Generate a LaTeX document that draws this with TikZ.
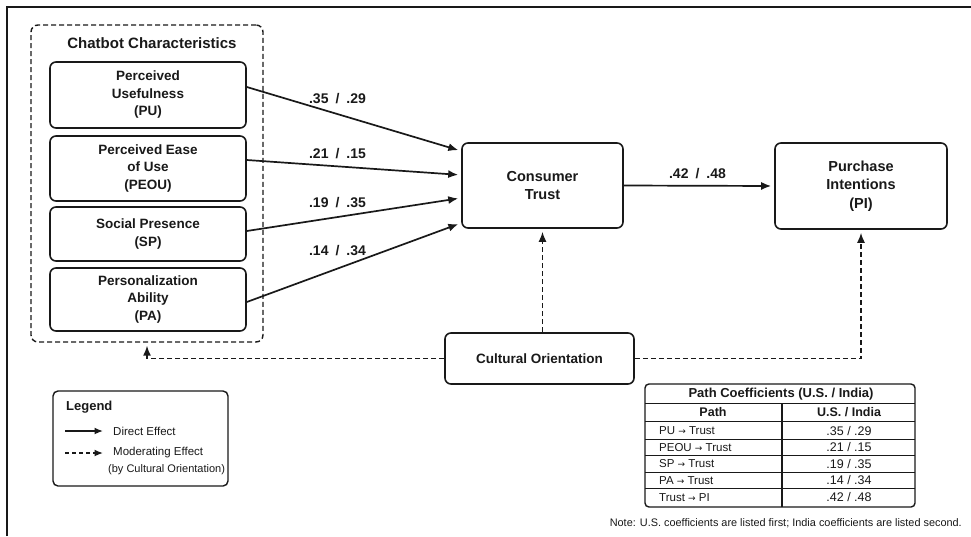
\documentclass[tikz,border=0pt]{standalone}
\usepackage{fontspec}
\setmainfont{Liberation Sans}
\newfontfamily\arrfont{DejaVu Sans}
\usetikzlibrary{arrows.meta,calc}
\definecolor{ink}{RGB}{25,25,25}
\newcommand{\rarr}{{\arrfont\fontsize{9}{9}\selectfont →}}
\begin{document}
\begin{tikzpicture}[x=1pt,y=-1pt,
  every node/.style={text=ink},
  box/.style={draw=ink, line width=1.6pt, rounded corners=6pt, align=center, inner sep=0pt,
    font=\fontsize{13.5}{17.5}\selectfont\bfseries},
  bigbox/.style={box, font=\fontsize{14.5}{18.5}\selectfont\bfseries},
  grpbox/.style={draw=ink, line width=1.4pt, rounded corners=7pt, dash pattern=on 5pt off 3pt, inner sep=0pt},
  direct/.style={draw=ink, line width=1.7pt, -{Latex[length=10pt,width=8pt]}, shorten >=3pt},
  mod/.style={direct, line width=1.5pt, dash pattern=on 5pt off 3pt},
  smalldirect/.style={draw=ink, line width=1.5pt, -{Latex[length=8.5pt,width=7pt]}},
  smallmod/.style={smalldirect, dash pattern=on 4pt off 3pt},
  lbl/.style={inner sep=0pt, font=\fontsize{14}{14}\selectfont\bfseries},
  legtxt/.style={anchor=west, inner sep=0pt, font=\fontsize{11.5}{13}\selectfont},
  tabtxt/.style={inner sep=0pt, font=\fontsize{11.5}{13}\selectfont}
]
\useasboundingbox (0,0) rectangle (971,536);
\fill[white] (0,0) rectangle (971,536);
% outer frame
\draw[ink, line width=2pt] (7,536) -- (7,7) -- (971,7);

% chatbot characteristics group
\node[grpbox, minimum width=232pt, minimum height=317pt] (grp) at (147,183.5) {};
\node[inner sep=0pt, font=\fontsize{15}{15}\selectfont\bfseries] (grpt) at (152,43) {Chatbot Characteristics};

\node[box, minimum width=196pt, minimum height=66pt] (pu) at (148,95) {Perceived\\Usefulness\\(PU)};
\node[box, minimum width=196pt, minimum height=65pt] (peou) at (148,168.5) {Perceived Ease\\of Use\\(PEOU)};
\node[box, minimum width=196pt, minimum height=54pt] (sp) at (148,234) {Social Presence\\(SP)};
\node[box, minimum width=196pt, minimum height=63pt] (pa) at (148,299.5) {Personalization\\Ability\\(PA)};

\node[bigbox, minimum width=161pt, minimum height=85pt] (ct) at (542.5,185.5) {Consumer\\Trust};
\node[bigbox, minimum width=172pt, minimum height=86pt] (pi) at (861,186) {Purchase\\Intentions\\(PI)};
\node[box, minimum width=189pt, minimum height=51pt] (co) at (539.5,358.5) {Cultural Orientation};

% direct effects
\draw[direct] ([yshift=8pt]pu.east) -- node[lbl, pos=0.423, yshift=16pt] {.35\enspace/\enspace.29} ([yshift=34.5pt]ct.west);
\draw[direct] ([yshift=8.5pt]peou.east) -- node[lbl, pos=0.423, yshift=12.5pt] {.21\enspace/\enspace.15} ([yshift=10.5pt]ct.west);
\draw[direct] ([yshift=3pt]sp.east) -- node[lbl, pos=0.423, yshift=14pt] {.19\enspace/\enspace.35} ([yshift=-12.5pt]ct.west);
\draw[direct] ([yshift=-2.5pt]pa.east) -- node[lbl, pos=0.423, yshift=18.5pt] {.14\enspace/\enspace.34} ([yshift=-37.5pt]ct.west);
\draw[direct] (ct.east) -- node[lbl, pos=0.49, yshift=12pt] {.42\enspace/\enspace.48} (pi.west);

% moderating effects
\draw[mod] (co.north -| ct.south) -- (ct.south);
\draw[mod] (co.east) -| (pi.south);
\draw[mod] (co.west) -| (grp.south);

% legend
\node[draw=ink, line width=1.4pt, rounded corners=5pt, minimum width=175pt, minimum height=95pt, inner sep=0pt] (leg) at (140.5,438.5) {};
\node[anchor=west, inner sep=0pt, font=\fontsize{13}{13}\selectfont\bfseries] (legt) at (66,407) {Legend};
\coordinate (d1) at (65,431);
\coordinate (d2) at (103,431);
\draw[smalldirect] (d1) -- (d2);
\node[legtxt] (dtxt) at (113,431) {Direct Effect};
\coordinate (m1) at (65,453);
\coordinate (m2) at (103,453);
\draw[smallmod] (m1) -- (m2);
\node[legtxt] (mtxt) at (113,453) {Moderating Effect};
\node[legtxt, font=\fontsize{11}{13}\selectfont] (mtxt2) at (108,469.5) {(by Cultural Orientation)};

% table
\draw[ink, line width=1.4pt, rounded corners=4pt] (645,384) rectangle (915,507);
\foreach \yy in {403.3,421.7} \draw[ink, line width=1.2pt] (645,\yy) -- (915,\yy);
\foreach \yy in {439.3,455.3,472,488.3} \draw[ink, line width=0.9pt] (645,\yy) -- (915,\yy);
\draw[ink, line width=1.1pt] (782,403.3) -- (782,507);
\node[inner sep=0pt, font=\fontsize{13}{13}\selectfont\bfseries] (tabt) at (781,394) {Path Coefficients (U.S. / India)};
\node[inner sep=0pt, font=\fontsize{12.5}{13}\selectfont\bfseries] (h1) at (713,412.5) {Path};
\node[inner sep=0pt, font=\fontsize{12.5}{13}\selectfont\bfseries] (h2) at (849,412.5) {U.S. / India};
\node[tabtxt, anchor=west] (r1a) at (659,431) {PU \rarr{} Trust};
\node[tabtxt, anchor=west] (r2a) at (659,447.5) {PEOU \rarr{} Trust};
\node[tabtxt, anchor=west] (r3a) at (659,464) {SP \rarr{} Trust};
\node[tabtxt, anchor=west] (r4a) at (659,480.5) {PA \rarr{} Trust};
\node[tabtxt, anchor=west] (r5a) at (659,497.5) {Trust \rarr{} PI};
\node[tabtxt, font=\fontsize{12.5}{13}\selectfont] (r1b) at (849,431) {.35 / .29};
\node[tabtxt, font=\fontsize{12.5}{13}\selectfont] (r2b) at (849,447.5) {.21 / .15};
\node[tabtxt, font=\fontsize{12.5}{13}\selectfont] (r3b) at (849,464) {.19 / .35};
\node[tabtxt, font=\fontsize{12.5}{13}\selectfont] (r4b) at (849,480.5) {.14 / .34};
\node[tabtxt, font=\fontsize{12.5}{13}\selectfont] (r5b) at (849,497.5) {.42 / .48};

% note
\node[anchor=east, inner sep=0pt, font=\fontsize{10.9}{12}\selectfont] (note) at (962,523) {Note: U.S. coefficients are listed first; India coefficients are listed second.};
\end{tikzpicture}
\end{document}
